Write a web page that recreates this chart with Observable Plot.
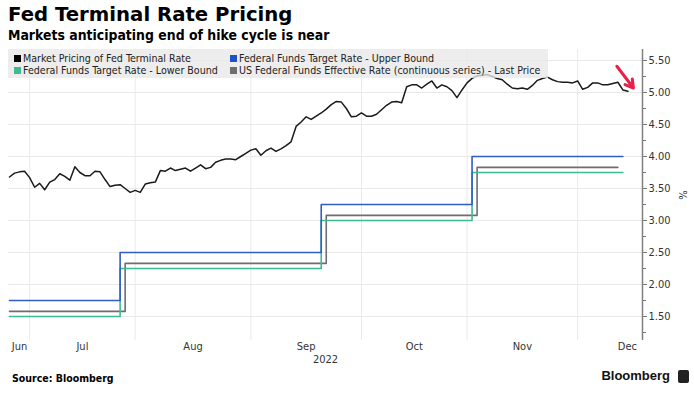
<!DOCTYPE html>
<html>
<head>
<meta charset="utf-8">
<script src="https://cdn.jsdelivr.net/npm/d3@7"></script>
<script src="https://cdn.jsdelivr.net/npm/@observablehq/plot@0.6"></script>
<style>
  body { margin: 0; background: #fff; width: 694px; height: 397px; position: relative; overflow: hidden; font-family: "DejaVu Sans Condensed", "DejaVu Sans", sans-serif; }
  .abs { position: absolute; white-space: nowrap; }
  #title { left: 8px; top: 3px; font-size: 19.7px; font-weight: bold; color: #000; font-family: "DejaVu Sans", sans-serif; }
  #subtitle { left: 8px; top: 27px; font-size: 13.9px; font-weight: bold; color: #000; font-family: "DejaVu Sans Condensed", "DejaVu Sans", sans-serif; }
  #chart { left: 0; top: 44px; }
  #legend { left: 8px; top: 49px; width: 540px; height: 29px; background: rgba(232,232,232,0.78); font-size: 10.6px; color: #222; }
  .li { position: absolute; }
  .sq { display: inline-block; width: 7px; height: 7px; margin-right: 2px; vertical-align: 0px; }
  #source { left: 12px; top: 372px; font-size: 10.5px; font-weight: bold; color: #000; }
  #brand { right: 24px; top: 368px; font-size: 13px; font-weight: bold; color: #111; font-family: "Liberation Sans", sans-serif; }
  #logo { right: 5px; top: 370px; width: 11px; height: 13px; background: #222; border-radius: 2px; }
</style>
</head>
<body>
<div id="title" class="abs">Fed Terminal Rate Pricing</div>
<div id="subtitle" class="abs">Markets anticipating end of hike cycle is near</div>
<div id="chart" class="abs"></div>
<div id="legend" class="abs"></div>
<div id="source" class="abs">Source: Bloomberg</div>
<div id="brand" class="abs">Bloomberg</div>
<div id="logo" class="abs"></div>
<script>
// ---------- data ----------
const startDate = "2022-06-27"; // first weekday shown
// Market pricing of Fed terminal rate, one value per weekday from startDate
const terminalValues = [
  3.68, 3.74, 3.76, 3.77, 3.67, 3.52, 3.58, 3.48, 3.60, 3.64,
  3.73, 3.69, 3.63, 3.84, 3.75, 3.70, 3.70, 3.77, 3.76, 3.64,
  3.53, 3.55, 3.56, 3.50, 3.44, 3.47, 3.44, 3.57, 3.59, 3.60,
  3.78, 3.77, 3.82, 3.78, 3.80, 3.82, 3.77, 3.82, 3.87, 3.81,
  3.83, 3.91, 3.94, 3.96, 3.96, 3.95, 4.00, 4.05, 4.10, 4.12,
  4.02, 4.09, 4.13, 4.08, 4.12, 4.17, 4.23, 4.47, 4.54, 4.62,
  4.58, 4.63, 4.68, 4.74, 4.81, 4.86, 4.85, 4.75, 4.62, 4.63,
  4.68, 4.63, 4.63, 4.66, 4.73, 4.80, 4.85, 4.86, 4.84, 5.09,
  5.12, 5.12, 5.07, 5.13, 5.18, 5.07, 5.12, 5.09, 5.03, 4.92,
  5.04, 5.15, 5.22, 5.26, 5.27, 5.28, 5.25, 5.22, 5.20, 5.13,
  5.07, 5.06, 5.07, 5.05, 5.11, 5.19, 5.22, 5.24, 5.20, 5.17,
  5.16, 5.16, 5.15, 5.18, 5.05, 5.08, 5.15, 5.15, 5.12, 5.12,
  5.14, 5.16, 5.04, 5.02
];
// Federal funds target range (changes) and effective rate
const upperDates = ["2022-06-27", "2022-07-27", "2022-09-21", "2022-11-02", "2022-12-14"];
const upperValues = [1.75, 2.50, 3.25, 4.00, 4.00];
const lowerDates = ["2022-06-27", "2022-07-27", "2022-09-21", "2022-11-02", "2022-12-14"];
const lowerValues = [1.50, 2.25, 3.00, 3.75, 3.75];
const effDates = ["2022-06-27", "2022-07-28", "2022-09-22", "2022-11-03", "2022-12-13"];
const effValues = [1.58, 2.33, 3.08, 3.83, 3.83];
// axis
const monthNames = ["Jun", "Jul", "Aug", "Sep", "Oct", "Nov", "Dec"];
const monthStarts = ["2022-06-01", "2022-07-01", "2022-08-01", "2022-09-01", "2022-10-01", "2022-11-01", "2022-12-01", "2023-01-01"];
const yearLabel = "2022";
const yTicks = [1.5, 2.0, 2.5, 3.0, 3.5, 4.0, 4.5, 5.0, 5.5];
const yMinorTicks = [1.25, 1.75, 2.25, 2.75, 3.25, 3.75, 4.25, 4.75, 5.25];
const legendItems = [
  {label: "Market Pricing of Fed Terminal Rate", color: "#000000"},
  {label: "Federal Funds Target Rate - Upper Bound", color: "#1f52c8"},
  {label: "Federal Funds Target Rate - Lower Bound", color: "#3dba92"},
  {label: "US Federal Funds Effective Rate (continuous series) - Last Price", color: "#6e6e6e"}
];

// ---------- helpers ----------
const t0 = new Date(startDate);
function wd(s) { // weekday index from startDate
  const d = new Date(s);
  return d3.utcDays(t0, d).filter(x => x.getUTCDay() % 6 !== 0).length;
}
const xDomain = [-0.2, 125.9];
const yDomain = [1.125, 5.672];

const terminal = terminalValues.map((v, i) => ({x: i, v}));
const upper = upperDates.map((d, i) => ({x: wd(d), v: upperValues[i]}));
const lower = lowerDates.map((d, i) => ({x: wd(d), v: lowerValues[i]}));
const eff = effDates.map((d, i) => ({x: wd(d), v: effValues[i]}));
const monthIdx = monthStarts.map(wd);
const gridX = monthIdx.slice(1, monthNames.length);
const monthLabels = monthNames.map((name, i) => {
  const a = Math.max(monthIdx[i], xDomain[0]);
  const b = monthIdx[i + 1];
  return {name, x: Math.min((a + b) / 2, xDomain[1] - 3)};
});
const last = terminal[terminal.length - 1];

const chart = Plot.plot({
  width: 694,
  height: 326,
  marginLeft: 8,
  marginRight: 52,
  marginTop: 5,
  marginBottom: 30,
  style: {fontFamily: '"DejaVu Sans Condensed", "DejaVu Sans", sans-serif', fontSize: "11px", color: "#333", background: "transparent"},
  x: {type: "linear", domain: xDomain, axis: null},
  y: {domain: yDomain},
  marks: [
    Plot.ruleY(yTicks, {stroke: "#e9e9e9", strokeWidth: 1}),
    Plot.ruleX(gridX, {stroke: "#e9e9e9", strokeWidth: 1}),
    Plot.line(eff, {x: "x", y: "v", curve: "step-after", stroke: legendItems[3].color, strokeWidth: 1.6}),
    Plot.line(lower, {x: "x", y: "v", curve: "step-after", stroke: legendItems[2].color, strokeWidth: 1.6}),
    Plot.line(upper, {x: "x", y: "v", curve: "step-after", stroke: "#2f5fbf", strokeWidth: 1.6}),
    Plot.line(terminal, {x: "x", y: "v", stroke: "#1a1a1a", strokeWidth: 1.5}),
    Plot.arrow([last], {x1: d => d.x - 2.2, y1: d => d.v + 0.39, x2: d => d.x + 1.1, y2: d => d.v + 0.05, stroke: "#e8214a", strokeWidth: 3, headLength: 9}),
    Plot.axisY(yMinorTicks, {anchor: "right", tickSize: 3, tickFormat: () => "", stroke: "#777", label: null}),
    Plot.axisY(yTicks, {anchor: "right", tickSize: 4, tickPadding: 2, tickFormat: d => d.toFixed(2), stroke: "#777", fill: "#333", fontSize: 11, label: "%", labelAnchor: "center", labelOffset: 44, labelArrow: "none"}),
    Plot.ruleX([xDomain[1]], {stroke: "#808080", strokeWidth: 1.5}),
    Plot.text(monthLabels, {x: "x", text: "name", frameAnchor: "bottom", dy: 9, fill: "#333", fontSize: 11}),
    Plot.text([yearLabel], {x: (xDomain[0] + xDomain[1]) / 2, text: d => d, frameAnchor: "bottom", dy: 22, fill: "#333", fontSize: 11})
  ]
});
document.getElementById("chart").appendChild(chart);

// legend
const leg = document.getElementById("legend");
const pos = [[6, 3], [222, 3], [6, 15], [222, 15]];
legendItems.forEach((it, i) => {
  const el = document.createElement("div");
  el.className = "li";
  el.style.left = pos[i][0] + "px";
  el.style.top = pos[i][1] + "px";
  el.innerHTML = `<span class="sq" style="background:${it.color}"></span>${it.label}`;
  leg.appendChild(el);
});
</script>
</body>
</html>
